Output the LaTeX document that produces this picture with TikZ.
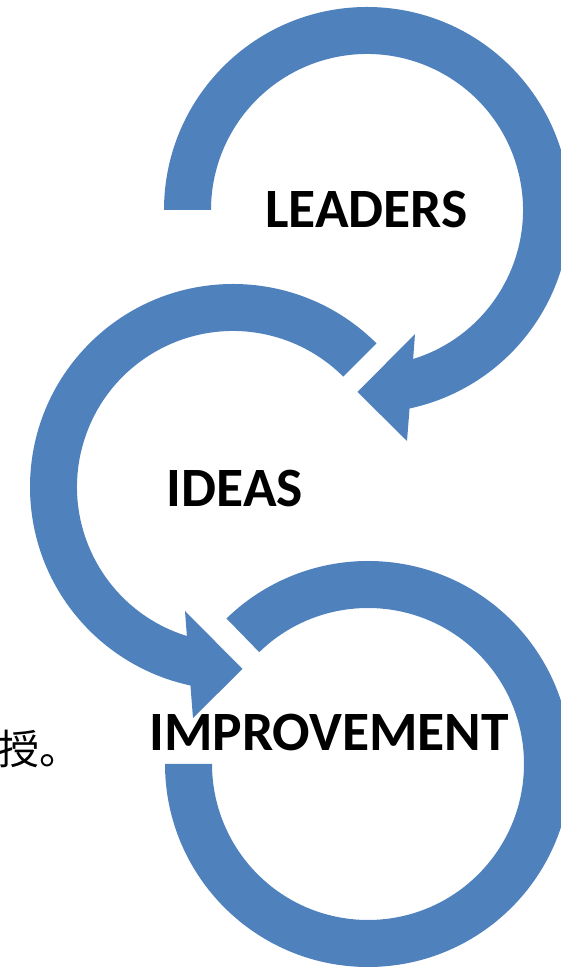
\documentclass[tikz,border=0pt]{standalone}
\usepackage{fontspec}
\newfontfamily\labelfont{Carlito}
\newfontfamily\cjk{Noto Sans CJK SC}
\definecolor{arrowblue}{HTML}{4F81BD}
\tikzset{
  arrowband/.style={fill=arrowblue, draw=none},
  cyclelabel/.style={font=\labelfont\bfseries\fontsize{55.5}{60}\selectfont, text=black, inner sep=0pt, anchor=base},
}
\begin{document}
\begin{tikzpicture}[x=1pt, y=1pt]
\useasboundingbox (0,0) rectangle (561,968);
% Arrow 1 (LEADERS), clockwise from the left end to a head at the bottom
\begin{scope}[shift={(367,758)}]
\fill[arrowband] (180:203) arc[start angle=180, end angle=-77.9, radius=203]
  -- (40,-231) -- (-9.5,-182) -- (48,-124) -- (-72.8:156)
  arc[start angle=-72.8, end angle=180, radius=156] -- cycle;
\end{scope}
% Arrow 2 (IDEAS), counter-clockwise from 45 deg to a head at the bottom
\begin{scope}[shift={(233,481)}]
\fill[arrowband] (45:203) arc[start angle=45, end angle=257.9, radius=203]
  -- (-40,-231) -- (9.5,-182) -- (-48,-124) -- (252.8:156)
  arc[start angle=252.8, end angle=45, radius=156] -- cycle;
\end{scope}
% Arrow 3 (IMPROVEMENT), no head
\begin{scope}[shift={(368,204)}]
\fill[arrowband] (180:203) arc[start angle=180, end angle=494.2, radius=203]
  -- (494.2:156) arc[start angle=494.2, end angle=180, radius=156] -- cycle;
\end{scope}
\node[cyclelabel] (leaders) at (366.5,740) {LEADERS};
\node[cyclelabel] (ideas) at (235,461) {IDEAS};
\node[cyclelabel] (improvement) at (329,217) {IMPROVEMENT};
\node[font=\cjk\fontsize{41}{44}\selectfont, inner sep=0pt, anchor=base west] (shou) at (-2,203) {授。};
\end{tikzpicture}
\end{document}
